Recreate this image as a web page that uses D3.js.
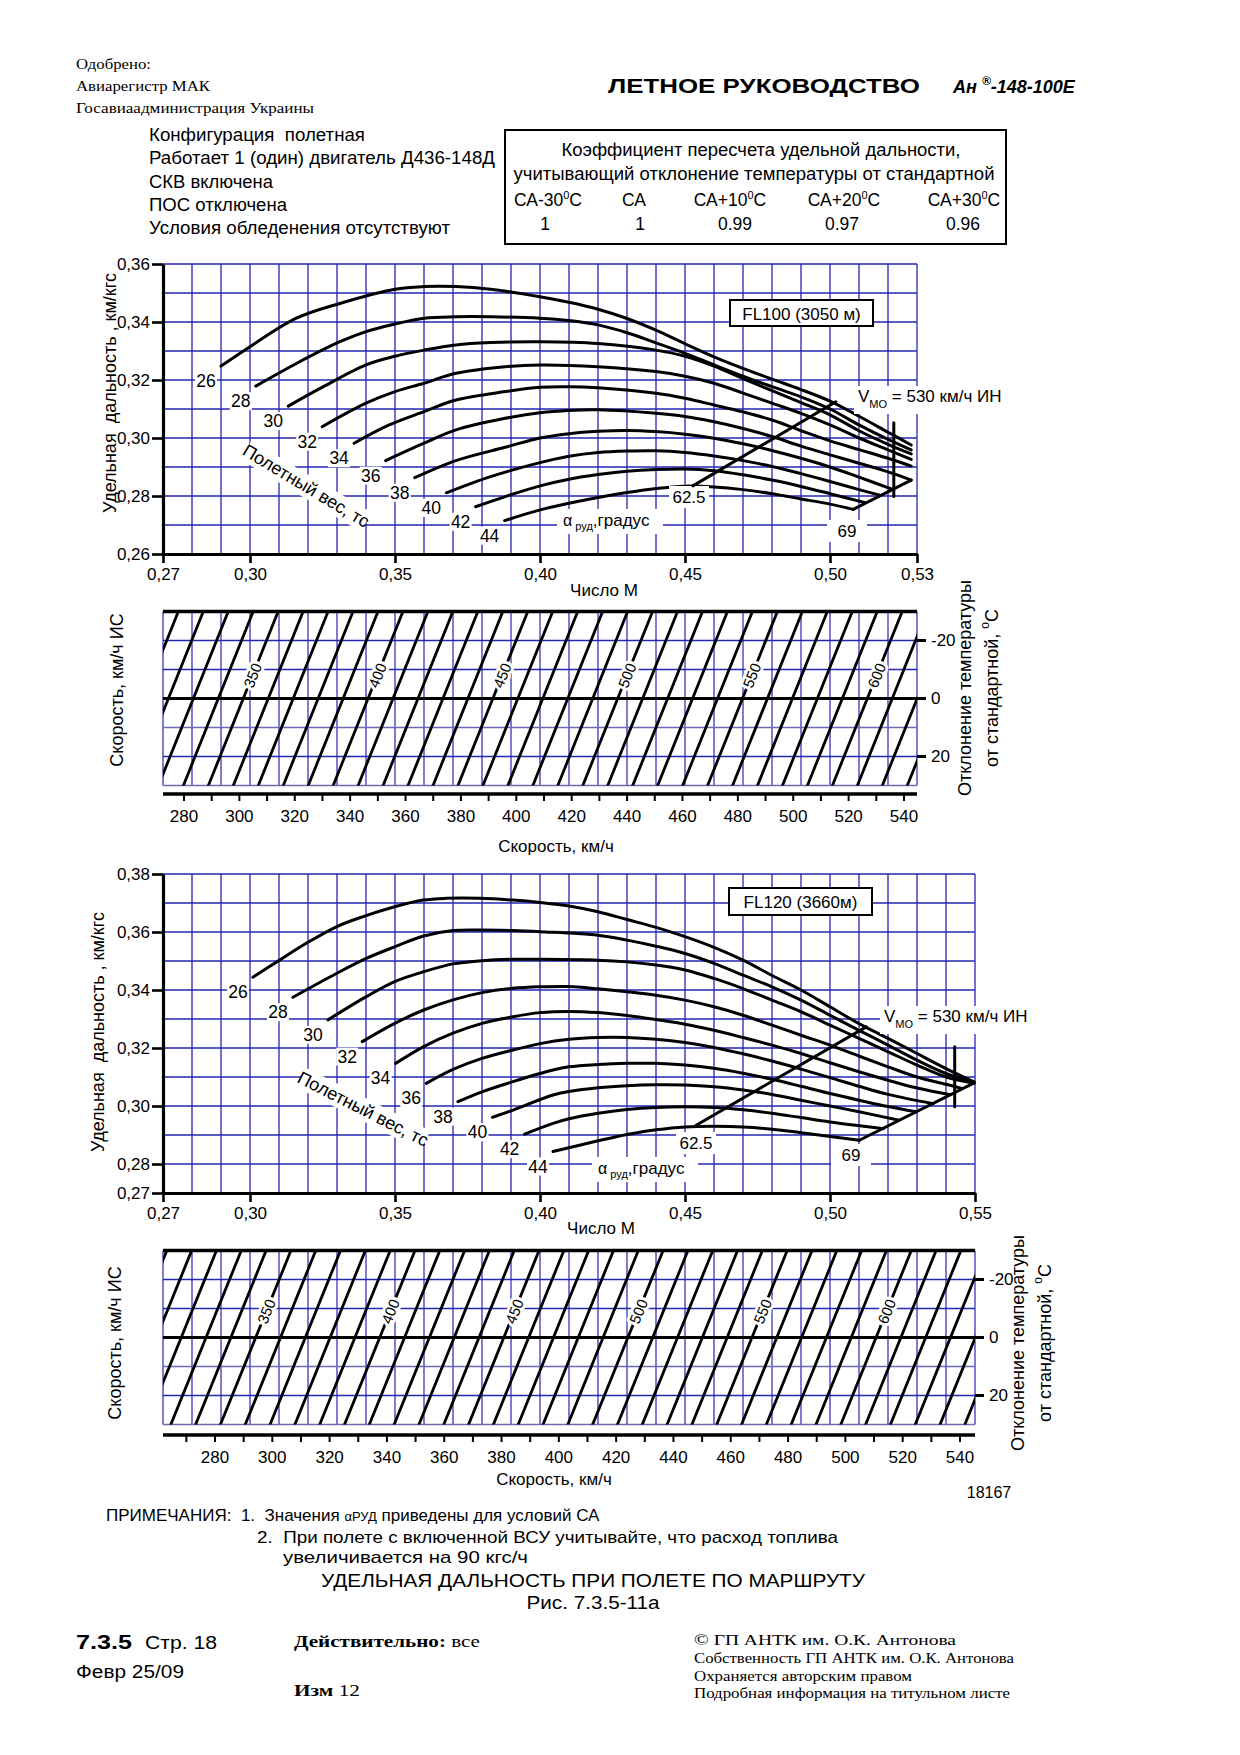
<!DOCTYPE html>
<html><head><meta charset="utf-8">
<script src="https://cdnjs.cloudflare.com/ajax/libs/d3/7.8.5/d3.min.js"></script>
<style>
body{margin:0;background:#fff}
svg text{white-space:pre}
</style>
</head><body><svg id="c" width="1240" height="1755"></svg>
<script>
// ===================== DATA =====================
// FL100 chart: specific range (km/kgf) vs Mach for flight weights (tf)
const fl100Weights = [26,28,30,32,34,36,38,40,42,44];
const fl100_w26 = [[0.290,0.3248],[0.300,0.3315],[0.316,0.3413],[0.331,0.3464],[0.350,0.3513],[0.360,0.3522],[0.371,0.3522],[0.383,0.3513],[0.394,0.3497],[0.400,0.3487],[0.410,0.3468],[0.420,0.3444],[0.430,0.3412],[0.440,0.3372],[0.450,0.3325],[0.460,0.3280],[0.470,0.3240],[0.480,0.3203],[0.490,0.3167],[0.500,0.3127],[0.510,0.3075],[0.520,0.3020],[0.528,0.2976]];
const fl100_w28 = [[0.302,0.3179],[0.316,0.3257],[0.331,0.3332],[0.340,0.3367],[0.350,0.3393],[0.360,0.3413],[0.371,0.3418],[0.383,0.3418],[0.400,0.3413],[0.410,0.3405],[0.420,0.3390],[0.430,0.3363],[0.440,0.3328],[0.450,0.3292],[0.460,0.3252],[0.470,0.3213],[0.480,0.3177],[0.490,0.3142],[0.500,0.3100],[0.510,0.3045],[0.520,0.2995],[0.528,0.2959]];
const fl100_w30 = [[0.3132,0.3110],[0.3253,0.3177],[0.340,0.3252],[0.350,0.3282],[0.360,0.3303],[0.371,0.3321],[0.383,0.3329],[0.400,0.3332],[0.420,0.3326],[0.440,0.3303],[0.450,0.3282],[0.460,0.3248],[0.470,0.3205],[0.480,0.3163],[0.490,0.3122],[0.500,0.3080],[0.510,0.3025],[0.520,0.2978],[0.528,0.2945]];
const fl100_w32 = [[0.3249,0.3039],[0.340,0.3120],[0.350,0.3160],[0.360,0.3189],[0.371,0.3223],[0.388,0.3246],[0.400,0.3252],[0.420,0.3246],[0.440,0.3229],[0.450,0.3213],[0.460,0.3189],[0.470,0.3155],[0.480,0.3120],[0.490,0.3085],[0.500,0.3045],[0.510,0.3000],[0.520,0.2959],[0.528,0.2926]];
const fl100_w34 = [[0.3359,0.2982],[0.348,0.3045],[0.360,0.3091],[0.371,0.3131],[0.388,0.3160],[0.400,0.3175],[0.410,0.3177],[0.420,0.3173],[0.440,0.3154],[0.450,0.3137],[0.460,0.3114],[0.470,0.3090],[0.480,0.3062],[0.490,0.3025],[0.500,0.2990],[0.510,0.2960],[0.520,0.2930],[0.528,0.2903]];
const fl100_w36 = [[0.3468,0.2922],[0.360,0.2982],[0.371,0.3028],[0.388,0.3068],[0.400,0.3087],[0.410,0.3095],[0.420,0.3097],[0.440,0.3085],[0.450,0.3074],[0.460,0.3056],[0.470,0.3033],[0.480,0.3005],[0.490,0.2972],[0.500,0.2942],[0.510,0.2913],[0.520,0.2883],[0.528,0.2855]];
const fl100_w38 = [[0.3568,0.2863],[0.371,0.2922],[0.388,0.2968],[0.400,0.3000],[0.410,0.3015],[0.420,0.3023],[0.430,0.3026],[0.440,0.3022],[0.450,0.3013],[0.460,0.2999],[0.470,0.2980],[0.480,0.2957],[0.490,0.2930],[0.500,0.2900],[0.510,0.2865],[0.5216,0.2823]];
const fl100_w40 = [[0.3677,0.2811],[0.383,0.2867],[0.400,0.2915],[0.410,0.2937],[0.420,0.2950],[0.430,0.2955],[0.440,0.2956],[0.450,0.2950],[0.460,0.2938],[0.470,0.2922],[0.480,0.2902],[0.490,0.2877],[0.500,0.2850],[0.510,0.2822],[0.5175,0.2802]];
const fl100_w42 = [[0.3778,0.2763],[0.388,0.2798],[0.400,0.2835],[0.410,0.2858],[0.420,0.2874],[0.430,0.2885],[0.440,0.2891],[0.450,0.2893],[0.460,0.2887],[0.470,0.2873],[0.480,0.2855],[0.490,0.2833],[0.500,0.2808],[0.5121,0.2777]];
const fl100_w44 = [[0.3878,0.2715],[0.400,0.2752],[0.410,0.2775],[0.420,0.2795],[0.430,0.2812],[0.440,0.2826],[0.450,0.2834],[0.460,0.2831],[0.470,0.2822],[0.480,0.2808],[0.490,0.2790],[0.500,0.2772],[0.508,0.2754]];
const fl100_alpha625 = [[0.4527,0.2835],[0.502,0.3125]];
const fl100_alpha69 = [[0.508,0.2754],[0.528,0.2855]];
const fl100_vmo = [[0.522,0.3053],[0.522,0.2798]];

// FL120 chart
const fl120Weights = [26,28,30,32,34,36,38,40,42,44];
const fl120_w26 = [[0.3010,0.3444],[0.3102,0.3503],[0.3194,0.3561],[0.3298,0.3618],[0.3390,0.3653],[0.3499,0.3687],[0.3597,0.3710],[0.3677,0.3716],[0.3792,0.3716],[0.3907,0.3710],[0.400,0.3702],[0.410,0.3690],[0.420,0.3670],[0.430,0.3643],[0.440,0.3616],[0.450,0.3584],[0.460,0.3547],[0.470,0.3503],[0.480,0.3450],[0.490,0.3400],[0.500,0.3342],[0.510,0.3284],[0.520,0.3233],[0.530,0.3181],[0.540,0.3129],[0.5497,0.3083]];
const fl120_w28 = [[0.3148,0.3375],[0.3298,0.3457],[0.3401,0.3509],[0.3499,0.3549],[0.3599,0.3586],[0.370,0.3605],[0.3792,0.3607],[0.3907,0.3605],[0.400,0.3601],[0.420,0.3589],[0.430,0.3572],[0.440,0.3551],[0.450,0.3526],[0.460,0.3492],[0.470,0.3451],[0.480,0.3411],[0.490,0.3365],[0.500,0.3313],[0.510,0.3261],[0.520,0.3210],[0.530,0.3158],[0.540,0.3112],[0.5497,0.3081]];
const fl120_w30 = [[0.3269,0.3297],[0.3401,0.3377],[0.3499,0.3429],[0.3599,0.3463],[0.370,0.3490],[0.380,0.3501],[0.3907,0.3506],[0.400,0.3506],[0.420,0.3503],[0.430,0.3497],[0.440,0.3486],[0.450,0.3469],[0.460,0.3440],[0.470,0.3405],[0.480,0.3365],[0.490,0.3325],[0.500,0.3279],[0.510,0.3233],[0.520,0.3187],[0.530,0.3141],[0.540,0.3100],[0.5497,0.3079]];
const fl120_w32 = [[0.3387,0.3222],[0.3499,0.3285],[0.3599,0.3331],[0.370,0.3366],[0.380,0.3391],[0.3907,0.3406],[0.400,0.3411],[0.410,0.3412],[0.420,0.3404],[0.430,0.3394],[0.440,0.3382],[0.450,0.3365],[0.460,0.3342],[0.470,0.3313],[0.480,0.3279],[0.490,0.3244],[0.500,0.3210],[0.510,0.3172],[0.520,0.3135],[0.530,0.3100],[0.540,0.3075],[0.5457,0.3060]];
const fl120_w34 = [[0.3502,0.3147],[0.3599,0.3205],[0.370,0.3251],[0.380,0.3285],[0.3907,0.3308],[0.400,0.3322],[0.410,0.3326],[0.420,0.3322],[0.430,0.3312],[0.440,0.3298],[0.450,0.3282],[0.460,0.3261],[0.470,0.3236],[0.480,0.3210],[0.490,0.3181],[0.500,0.3149],[0.510,0.3118],[0.520,0.3089],[0.530,0.3062],[0.5416,0.3039]];
const fl120_w36 = [[0.3608,0.3078],[0.370,0.3126],[0.380,0.3164],[0.3907,0.3193],[0.400,0.3215],[0.410,0.3230],[0.420,0.3236],[0.430,0.3236],[0.440,0.3230],[0.450,0.3219],[0.460,0.3202],[0.470,0.3180],[0.480,0.3155],[0.490,0.3127],[0.500,0.3098],[0.510,0.3068],[0.520,0.3040],[0.5356,0.3008]];
const fl120_w38 = [[0.3717,0.3015],[0.380,0.3049],[0.3907,0.3084],[0.4045,0.3124],[0.410,0.3135],[0.420,0.3143],[0.430,0.3147],[0.440,0.3147],[0.450,0.3141],[0.460,0.3130],[0.470,0.3113],[0.480,0.3092],[0.490,0.3068],[0.500,0.3043],[0.510,0.3020],[0.520,0.2998],[0.5297,0.2980]];
const fl120_w40 = [[0.3836,0.2961],[0.3907,0.2986],[0.4045,0.3038],[0.410,0.3050],[0.420,0.3063],[0.430,0.3070],[0.440,0.3073],[0.450,0.3072],[0.460,0.3066],[0.470,0.3055],[0.480,0.3040],[0.490,0.3020],[0.500,0.3000],[0.510,0.2980],[0.5238,0.2951]];
const fl120_w42 = [[0.3947,0.2903],[0.4045,0.2940],[0.410,0.2956],[0.420,0.2975],[0.430,0.2988],[0.440,0.2995],[0.450,0.2997],[0.460,0.2995],[0.470,0.2987],[0.480,0.2975],[0.490,0.2960],[0.500,0.2945],[0.5184,0.2922]];
const fl120_w44 = [[0.4045,0.2843],[0.420,0.2880],[0.430,0.2902],[0.440,0.2918],[0.450,0.2928],[0.460,0.2930],[0.470,0.2928],[0.480,0.2920],[0.490,0.2908],[0.500,0.2895],[0.5101,0.2882]];
const fl120_alpha625 = [[0.4537,0.2933],[0.5125,0.3273]];
const fl120_alpha69 = [[0.5101,0.2882],[0.5497,0.3080]];
const fl120_vmo = [[0.543,0.3204],[0.543,0.2997]];

// Axis ticks
const fl100MachTicks = [0.27,0.30,0.35,0.40,0.45,0.50,0.53];
const fl100RangeTicks = [0.26,0.28,0.30,0.32,0.34,0.36];
const fl120MachTicks = [0.27,0.30,0.35,0.40,0.45,0.50,0.55];
const fl120RangeTicks = [0.27,0.28,0.30,0.32,0.34,0.36,0.38];

// Nomograms: true airspeed lines (km/h) vs temperature deviation
const tasLines = [280,290,300,310,320,330,340,350,360,370,380,390,400,410,420,430,440,450,460,470,480,490,500,510,520,530,540,550,560,570,580,590,600,610,620,630,640,650,660,670,680];
const tasLabels = [350,400,450,500,550,600];
const tempTicks = [-20,0,20];
const tempGrid = [-20,-10,10,20];
const speedTicks = [280,300,320,340,360,380,400,420,440,460,480,500,520,540];
const speedMinorFL100 = [280,290,300,310,320,330,340,350,360,370,380,390,400,410,420,430,440,450,460,470,480,490,500,510,520,530,540];
const speedMinorFL120 = [270,280,290,300,310,320,330,340,350,360,370,380,390,400,410,420,430,440,450,460,470,480,490,500,510,520,530,540];
// indicated speed of the TAS-350 line at standard temp, slope per TAS km/h, shift per degC
const nomoFL100 = {ias350:301.4, kTas:0.9014, kT:0.42};
const nomoFL120 = {ias350:294.2, kTas:0.866, kT:0.41};

// Temperature correction table
const corrHeaders = ["СА-30","СА","СА+10","СА+20","СА+30"];
const corrValues = ["1","1","0.99","0.97","0.96"];

// ===================== DRAWING =====================
const svg = d3.select("#c");
svg.append("rect").attr("width",1240).attr("height",1755).attr("fill","#fff");
const GRID = "#2626b4";
const SANS = '"Liberation Sans", Arial, sans-serif';
const SERIF = '"Liberation Serif", "Times New Roman", serif';

function T(x, y, s, o = {}) {
  const t = (o.parent || svg).append("text").attr("x", x).attr("y", y)
    .attr("font-size", o.size || 17)
    .style("font-family", o.font || SANS)
    .attr("fill", "#000")
    .attr("text-anchor", o.anchor || "start");
  if (o.weight) t.attr("font-weight", o.weight);
  if (o.style) t.attr("font-style", o.style);
  if (o.len) t.attr("textLength", o.len).attr("lengthAdjust", "spacingAndGlyphs");
  if (o.rot !== undefined) t.attr("transform", `rotate(${o.rot},${x},${y})`);
  if (o.halo) t.style("paint-order", "stroke").attr("stroke", "#fff").attr("stroke-width", o.halo).attr("stroke-linejoin", "round");
  if (o.baseline) t.attr("dominant-baseline", o.baseline);
  if (s !== null) t.text(s);
  return t;
}
const fmt = d => d.toFixed(2).replace(".", ",");

function drawChart(o) {
  const g = svg.append("g");
  const x = d3.scaleLinear(o.mDomain, o.xRange);
  const y = d3.scaleLinear(o.yDomain, o.yRange);
  const [yb, yt] = o.yRange;
  const mGrid = d3.range(Math.round(o.mDomain[0]*100), Math.round(o.mDomain[1]*100) + 1).map(d => d/100);
  const yGrid = d3.range(Math.round(o.yDomain[0]*100), Math.round(o.yDomain[1]*100) + 1).map(d => d/100);
  g.append("g").selectAll("line").data(mGrid).join("line")
    .attr("x1", d => x(d)).attr("x2", d => x(d)).attr("y1", yt).attr("y2", yb)
    .attr("stroke", GRID).attr("stroke-width", 1.3);
  g.append("g").selectAll("line").data(yGrid).join("line")
    .attr("y1", d => y(d)).attr("y2", d => y(d)).attr("x1", o.xRange[0]).attr("x2", o.xRange[1])
    .attr("stroke", GRID).attr("stroke-width", 1.3);

  const ax = g.append("g").attr("transform", `translate(0,${yb})`)
    .call(d3.axisBottom(x).tickValues(o.xTicks).tickFormat(fmt).tickSize(9).tickSizeOuter(0).tickPadding(5));
  const ay = g.append("g").attr("transform", `translate(${o.xRange[0]},0)`)
    .call(d3.axisLeft(y).tickValues(o.yTicks).tickFormat(fmt).tickSize(11).tickSizeOuter(0).tickPadding(2));
  [ax, ay].forEach(a => {
    a.select(".domain").attr("stroke", "#000").attr("stroke-width", 3.2);
    a.selectAll(".tick line").attr("stroke", "#000").attr("stroke-width", 2.6);
    a.selectAll(".tick text").attr("font-size", 17).style("font-family", SANS).attr("fill", "#000");
  });

  // weight caption with white backing (drawn under curves)
  const wc = svg.append("g").attr("transform", `translate(${o.wCap[0]},${o.wCap[1]}) rotate(${o.wCap[2]})`);
  wc.append("rect").attr("x", -70).attr("y", -11).attr("width", 140).attr("height", 22).attr("fill", "#fff");
  T(0, 0, "Полетный вес, тс", {anchor: "middle", baseline: "central", size: 18, parent: wc});

  const line = d3.line().x(d => x(d[0])).y(d => y(d[1])).curve(d3.curveCatmullRom.alpha(0.5));
  svg.append("g").selectAll("path").data(o.curves).join("path")
    .attr("d", line).attr("fill", "none").attr("stroke", "#000").attr("stroke-width", 3).attr("stroke-linecap", "round");

  o.curves.forEach((c, i) => {
    const px = x(c[0][0]) - 15, py = y(c[0][1]) + 15;
    svg.append("rect").attr("x", px - 11).attr("y", py - 9).attr("width", 22).attr("height", 18).attr("fill", "#fff");
    T(px, py, String(o.weights[i]), {anchor: "middle", baseline: "central", size: 17.5});
  });

  const lab = (px, py, s) => {
    svg.append("rect").attr("x", px - 20).attr("y", py - 11).attr("width", 40).attr("height", 22).attr("fill", "#fff");
    T(px, py, s, {anchor: "middle", baseline: "central", size: 17});
  };
  lab(o.lab625[0], o.lab625[1], "62.5");
  lab(o.lab69[0], o.lab69[1], "69");

  const straight = d3.line().x(d => x(d[0])).y(d => y(d[1]));
  [o.a625, o.a69, o.vmo].forEach(d => {
    svg.append("path").attr("d", straight(d)).attr("fill", "none").attr("stroke", "#000").attr("stroke-width", 3).attr("stroke-linecap", "round");
  });

  svg.append("rect").attr("x", o.alphaLab[0] - 6).attr("y", o.alphaLab[1] - 12).attr("width", 106).attr("height", 25).attr("fill", "#fff");
  const at = T(o.alphaLab[0], o.alphaLab[1] + 5, null, {size: 16});
  at.append("tspan").text("α");
  at.append("tspan").attr("font-size", 11).attr("dy", 4).text(" руд");
  at.append("tspan").attr("dy", -4).attr("font-size", 17).text(",градус");

  svg.append("rect").attr("x", o.vmoLab[0] - 4).attr("y", o.vmoLab[1] - 16).attr("width", 162).attr("height", 28).attr("fill", "#fff");
  const vt = T(o.vmoLab[0], o.vmoLab[1], null, {size: 17});
  vt.append("tspan").text("V");
  vt.append("tspan").attr("font-size", 11).attr("dy", 6).text("МО");
  vt.append("tspan").attr("dy", -6).text(" = 530 км/ч ИН");

  svg.append("rect").attr("x", o.flBox[0]).attr("y", o.flBox[1]).attr("width", o.flBox[2]).attr("height", o.flBox[3])
    .attr("fill", "#fff").attr("stroke", "#000").attr("stroke-width", 2);
  T(o.flBox[0] + o.flBox[2]/2, o.flBox[1] + o.flBox[3]/2 + 1, o.flText, {anchor: "middle", baseline: "central", size: 17});

  T(o.mTitle[0], o.mTitle[1], "Число М", {anchor: "middle", size: 17});
  T(o.yTitle[0], o.yTitle[1], "Удельная  дальность , км/кгс", {anchor: "middle", baseline: "central", size: 18, rot: -90});
}

function drawNomo(o) {
  const g = svg.append("g");
  const xm = d3.scaleLinear(o.mDomain, o.xRange);
  const xs = d3.scaleLinear([280, 540], o.iasRange);
  const yt = d3.scaleLinear([-30, 30], o.tRange);
  const [L, R] = o.xRange, [Tp, B] = o.tRange;
  const p = o.params;
  const ias = (v, t) => p.ias350 + (v - 350) * p.kTas - t * p.kT;

  svg.append("clipPath").attr("id", "clip" + o.id).append("rect")
    .attr("x", L).attr("y", Tp).attr("width", R - L).attr("height", B - Tp);

  const mGrid = d3.range(Math.round(o.mDomain[0]*100), Math.round(o.mDomain[1]*100) + 1).map(d => d/100);
  g.append("g").selectAll("line").data(mGrid).join("line")
    .attr("x1", d => xm(d)).attr("x2", d => xm(d)).attr("y1", Tp).attr("y2", B)
    .attr("stroke", GRID).attr("stroke-width", 1.2);
  g.append("g").selectAll("line").data(tempGrid).join("line")
    .attr("y1", d => yt(d)).attr("y2", d => yt(d)).attr("x1", L).attr("x2", R)
    .attr("stroke", d => d === 10 ? "#6a6ab8" : GRID).attr("stroke-width", 1.4);
  g.append("line").attr("x1", L).attr("x2", R).attr("y1", yt(30)).attr("y2", yt(30)).attr("stroke", "#6c6cb0").attr("stroke-width", 1.6);

  g.append("g").attr("clip-path", `url(#clip${o.id})`).selectAll("line").data(tasLines).join("line")
    .attr("x1", v => xs(ias(v, 32))).attr("y1", yt(32))
    .attr("x2", v => xs(ias(v, -32))).attr("y2", yt(-32))
    .attr("stroke", "#000").attr("stroke-width", 2.8);

  g.append("line").attr("x1", L).attr("x2", R).attr("y1", yt(0)).attr("y2", yt(0)).attr("stroke", "#000").attr("stroke-width", 3);
  g.append("line").attr("x1", L).attr("x2", R).attr("y1", Tp).attr("y2", Tp).attr("stroke", "#000").attr("stroke-width", 3.5);

  const ang = Math.atan2(yt(-30) - yt(30), xs(ias(350, -30)) - xs(ias(350, 30))) * 180 / Math.PI;
  tasLabels.forEach(v => {
    const px = xs(ias(v, o.labT)), py = yt(o.labT);
    T(px, py, String(v), {anchor: "middle", baseline: "central", size: 15, rot: ang, halo: 6});
  });

  tempTicks.forEach(t => {
    g.append("line").attr("x1", R).attr("x2", R + 9).attr("y1", yt(t)).attr("y2", yt(t)).attr("stroke", "#000").attr("stroke-width", 3);
    T(R + 14, yt(t), String(t), {baseline: "central", size: 17});
  });

  g.append("line").attr("x1", L).attr("x2", R).attr("y1", o.axisY).attr("y2", o.axisY).attr("stroke", "#000").attr("stroke-width", 3.5);
  g.append("g").selectAll("line").data(o.minor).join("line")
    .attr("x1", d => xs(d)).attr("x2", d => xs(d)).attr("y1", o.axisY).attr("y2", o.axisY + 7)
    .attr("stroke", "#000").attr("stroke-width", 2);
  speedTicks.forEach(s => T(xs(s), o.axisY + 28, String(s), {anchor: "middle", size: 17}));

  T(o.xTitle[0], o.xTitle[1], "Скорость, км/ч", {anchor: "middle", size: 17});
  T(o.lTitle[0], o.lTitle[1], "Скорость, км/ч ИС", {anchor: "middle", baseline: "central", size: 18, rot: -90});
  T(o.rTitle[0], o.rTitle[1], "Отклонение температуры", {anchor: "middle", baseline: "central", size: 18, rot: -90});
  const r2 = T(o.rTitle[0] + 27, o.rTitle[1], null, {anchor: "middle", baseline: "central", size: 18, rot: -90});
  r2.append("tspan").text("от стандартной, ");
  r2.append("tspan").attr("font-size", 12).attr("dy", -7).text("o");
  r2.append("tspan").attr("dy", 7).text("С");
}

drawChart({
  mDomain: [0.27, 0.53], xRange: [163, 917], yDomain: [0.26, 0.36], yRange: [554, 264],
  xTicks: fl100MachTicks, yTicks: fl100RangeTicks,
  curves: [fl100_w26, fl100_w28, fl100_w30, fl100_w32, fl100_w34, fl100_w36, fl100_w38, fl100_w40, fl100_w42, fl100_w44],
  weights: fl100Weights, a625: fl100_alpha625, a69: fl100_alpha69, vmo: fl100_vmo,
  lab625: [689, 497], lab69: [847, 531], alphaLab: [563, 521], vmoLab: [858, 402],
  flBox: [730, 300, 143, 26], flText: "FL100 (3050 м)",
  wCap: [306, 486, 31], mTitle: [604, 596], yTitle: [110, 393]
});
drawNomo({
  id: "a", mDomain: [0.27, 0.53], xRange: [163, 917], iasRange: [184, 904], tRange: [611.5, 785.5],
  params: nomoFL100, labT: -8, axisY: 794, minor: speedMinorFL100,
  xTitle: [556, 852], lTitle: [117, 690], rTitle: [965, 688]
});

drawChart({
  mDomain: [0.27, 0.55], xRange: [163, 975], yDomain: [0.27, 0.38], yRange: [1193, 874],
  xTicks: fl120MachTicks, yTicks: fl120RangeTicks,
  curves: [fl120_w26, fl120_w28, fl120_w30, fl120_w32, fl120_w34, fl120_w36, fl120_w38, fl120_w40, fl120_w42, fl120_w44],
  weights: fl120Weights, a625: fl120_alpha625, a69: fl120_alpha69, vmo: fl120_vmo,
  lab625: [696, 1143], lab69: [851, 1155], alphaLab: [598, 1169], vmoLab: [884, 1022],
  flBox: [729, 888, 143, 27], flText: "FL120 (3660м)",
  wCap: [363, 1109, 27], mTitle: [601, 1234], yTitle: [98, 1032]
});
drawNomo({
  id: "b", mDomain: [0.27, 0.55], xRange: [163, 975], iasRange: [215, 960], tRange: [1250.5, 1424.5],
  params: nomoFL120, labT: -9, axisY: 1435, minor: speedMinorFL120,
  xTitle: [554, 1485], lTitle: [115, 1343], rTitle: [1018, 1343]
});

// ---- header ----
T(76, 69, "Одобрено:", {font: SERIF, size: 15, len: 75});
T(76, 91, "Авиарегистр МАК", {font: SERIF, size: 15, len: 134});
T(76, 113, "Госавиаадминистрация Украины", {font: SERIF, size: 15, len: 238});
T(608, 93, "ЛЕТНОЕ РУКОВОДСТВО", {size: 20, weight: "bold", len: 312});
const ah = T(953, 93, null, {size: 18, weight: "bold", style: "italic"});
ah.append("tspan").text("Ан ");
ah.append("tspan").attr("font-size", 12).attr("dy", -8).text("®");
ah.append("tspan").attr("dy", 8).text("-148-100Е");

const info = [["Конфигурация  полетная", 216], ["Работает 1 (один) двигатель Д436-148Д", 346], ["СКВ включена", 124], ["ПОС отключена", 138], ["Условия обледенения отсутствуют", 301]];
info.forEach((d, i) => T(149, 141 + i * 23.3, d[0], {size: 17.5, len: d[1]}));

svg.append("rect").attr("x", 505).attr("y", 130).attr("width", 501).attr("height", 114).attr("fill", "none").attr("stroke", "#000").attr("stroke-width", 2);
T(761, 156, "Коэффициент пересчета удельной дальности,", {anchor: "middle", size: 17.5, len: 399});
T(754, 180, "учитывающий отклонение температуры от стандартной", {anchor: "middle", size: 17.5, len: 481});
const hx = [548, 634, 730, 844, 964], vx = [545, 640, 735, 842, 963];
corrHeaders.forEach((h, i) => {
  const t = T(hx[i], 206, null, {anchor: "middle", size: 17.5});
  t.append("tspan").text(h);
  if (h !== "СА") {
    t.append("tspan").attr("font-size", 11).attr("dy", -7).text("0");
    t.append("tspan").attr("dy", 7).text("С");
  }
});
corrValues.forEach((v, i) => T(vx[i], 230, v, {anchor: "middle", size: 17.5}));

// ---- notes & footer ----
T(989, 1498, "18167", {anchor: "middle", size: 16});
const n1 = T(106, 1521, null, {size: 17});
n1.append("tspan").text("ПРИМЕЧАНИЯ:  1.  Значения ");
n1.append("tspan").attr("font-size", 13).text("αРУД");
n1.append("tspan").text(" приведены для условий СА");
T(257, 1543, "2.  При полете с включенной ВСУ учитывайте, что расход топлива", {size: 17, len: 581});
T(283, 1563, "увеличивается на 90 кгс/ч", {size: 17, len: 245});
T(593, 1587, "УДЕЛЬНАЯ ДАЛЬНОСТЬ ПРИ ПОЛЕТЕ ПО МАРШРУТУ", {anchor: "middle", size: 19, len: 544});
T(593, 1609, "Рис. 7.3.5-11а", {anchor: "middle", size: 18, len: 133});

T(76, 1649, "7.3.5", {size: 21, weight: "bold", len: 56});
T(145, 1649, "Стр. 18", {size: 18, len: 72});
T(76, 1678, "Февр 25/09", {size: 18, len: 108});
const dv = T(294, 1647, null, {font: SERIF, size: 17, len: 186});
dv.append("tspan").attr("font-weight", "bold").text("Действительно:");
dv.append("tspan").text(" все");
const iz = T(294, 1696, null, {font: SERIF, size: 17, len: 66});
iz.append("tspan").attr("font-weight", "bold").text("Изм");
iz.append("tspan").text(" 12");
T(694, 1645, "© ГП АНТК им. О.К. Антонова", {font: SERIF, size: 15, len: 262});
T(694, 1663, "Собственность ГП АНТК им. О.К. Антонова", {font: SERIF, size: 15, len: 320});
T(694, 1681, "Охраняется авторским правом", {font: SERIF, size: 15, len: 218});
T(694, 1698, "Подробная информация на титульном листе", {font: SERIF, size: 15, len: 316});
</script></body></html>
